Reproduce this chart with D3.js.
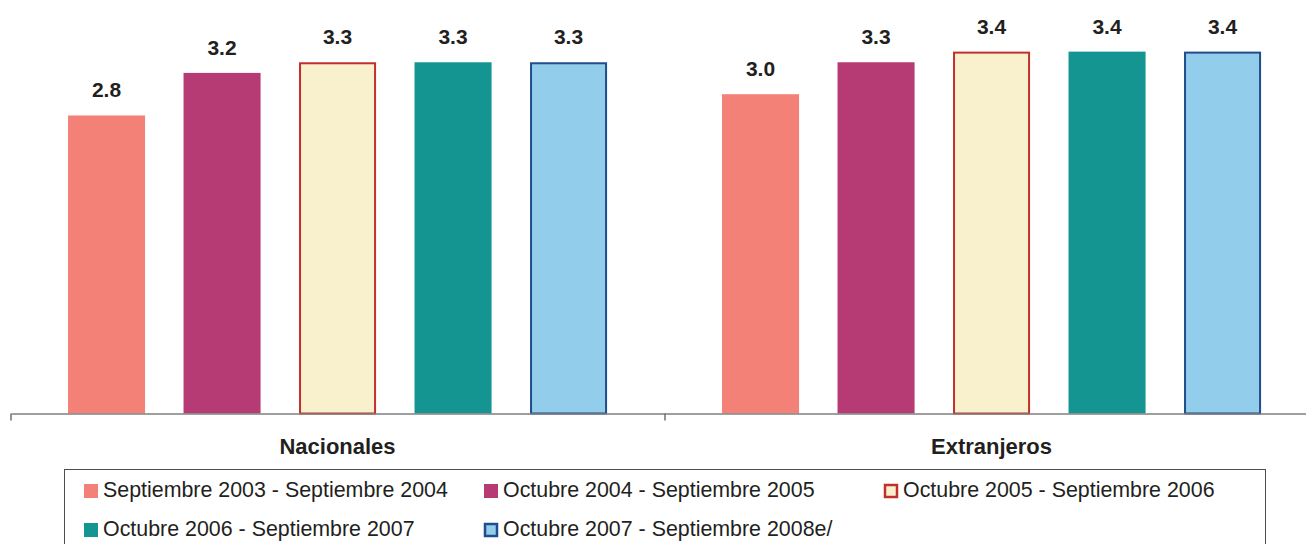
<!DOCTYPE html>
<html>
<head>
<meta charset="utf-8">
<script src="https://cdn.jsdelivr.net/npm/d3@7"></script>
<style>
  html, body { margin: 0; padding: 0; background: #fff; }
  svg { display: block; font-family: "Liberation Sans", Arial, Helvetica, sans-serif; }
</style>
</head>
<body>
<svg id="chart" width="1306" height="544"></svg>
<script>
// Groups on the x axis
const groups = ["Nacionales", "Extranjeros"];
// Periods (one bar per period in each group)
const periods = [
  "Septiembre 2003 - Septiembre 2004",
  "Octubre 2004 - Septiembre 2005",
  "Octubre 2005 - Septiembre 2006",
  "Octubre 2006 - Septiembre 2007",
  "Octubre 2007 - Septiembre 2008e/"
];
// Values per period, in group order
const nacionales = [2.8, 3.2, 3.3, 3.3, 3.3];
const extranjeros = [3.0, 3.3, 3.4, 3.4, 3.4];

const fills   = ["#F48177", "#B63A73", "#F9F0CD", "#159592", "#92CEEB"];
const strokes = [null, null, "#C1302B", null, "#1F4D8D"];

const svg = d3.select("#chart");
const baseY = 413.5;

const x0 = d3.scaleBand().domain(groups).range([11, 1319]).paddingInner(0).paddingOuter(0);
const x1 = d3.scaleBand().domain(d3.range(periods.length))
  .range([37.8, 615.3]).paddingInner(0.333).paddingOuter(0.1665);
const y = d3.scaleLinear().domain([0, 3.885]).range([baseY, 0]);

const rows = groups.map((g, i) => ({ group: g, values: i === 0 ? nacionales : extranjeros }));

// Bars
const gGroups = svg.selectAll("g.grp").data(rows).join("g")
  .attr("class", "grp")
  .attr("transform", d => `translate(${x0(d.group)},0)`);

gGroups.selectAll("rect").data(d => d.values.map((v, i) => ({ v, i }))).join("rect")
  .attr("x", d => x1(d.i) + (strokes[d.i] ? 1 : 0))
  .attr("y", d => y(d.v) + (strokes[d.i] ? 1 : 0))
  .attr("width", d => x1.bandwidth() - (strokes[d.i] ? 2 : 0))
  .attr("height", d => baseY - y(d.v) - (strokes[d.i] ? 1 : 0))
  .attr("fill", d => fills[d.i])
  .attr("stroke", d => strokes[d.i] || "none")
  .attr("stroke-width", 2);

// Value labels
gGroups.selectAll("text.val").data(d => d.values.map((v, i) => ({ v, i }))).join("text")
  .attr("class", "val")
  .attr("x", d => x1(d.i) + x1.bandwidth() / 2)
  .attr("y", d => y(d.v) - 18)
  .attr("text-anchor", "middle")
  .attr("font-size", 21)
  .attr("font-weight", "bold")
  .attr("fill", "#231F20")
  .text(d => d3.format(".1f")(d.v));

// Category axis
const axis = d3.axisBottom(x0).tickSize(0).tickFormat("");
const axG = svg.append("g").attr("transform", `translate(0,${baseY})`).call(axis);
axG.select(".domain").attr("stroke", "#7F7F7F").attr("stroke-width", 1.5);
// Boundary ticks between groups
const bounds = [x0.range()[0], x0(groups[1]), x0.range()[1]];
axG.selectAll("line.bnd").data(bounds).join("line")
  .attr("class", "bnd")
  .attr("x1", d => d).attr("x2", d => d)
  .attr("y1", 0).attr("y2", 7)
  .attr("stroke", "#6F6F6F").attr("stroke-width", 1.5);

svg.selectAll("text.cat").data(groups).join("text")
  .attr("class", "cat")
  .attr("x", d => x0(d) + x0.bandwidth() / 2 - 0.5)
  .attr("y", 454)
  .attr("text-anchor", "middle")
  .attr("font-size", 22)
  .attr("font-weight", "bold")
  .attr("fill", "#231F20")
  .text(d => d);

// Legend
svg.append("rect")
  .attr("x", 64.5).attr("y", 469.5)
  .attr("width", 1201).attr("height", 90)
  .attr("fill", "none").attr("stroke", "#4D4D4D").attr("stroke-width", 1);

const items = svg.selectAll("g.leg").data(periods).join("g")
  .attr("class", "leg")
  .attr("transform", (d, i) => `translate(${84 + (i % 3) * 400},${497 + Math.floor(i / 3) * 39})`);

items.append("rect")
  .attr("x", (d, i) => strokes[i] ? 1 : 0)
  .attr("y", (d, i) => -13 + (strokes[i] ? 1 : 0))
  .attr("width", (d, i) => strokes[i] ? 12 : 14)
  .attr("height", (d, i) => strokes[i] ? 12 : 14)
  .attr("fill", (d, i) => fills[i])
  .attr("stroke", (d, i) => strokes[i] || "none")
  .attr("stroke-width", 2.5);

items.append("text")
  .attr("x", 19)
  .attr("y", 0)
  .attr("font-size", 21.4)
  .attr("fill", "#231F20")
  .text(d => d);
</script>
</body>
</html>
